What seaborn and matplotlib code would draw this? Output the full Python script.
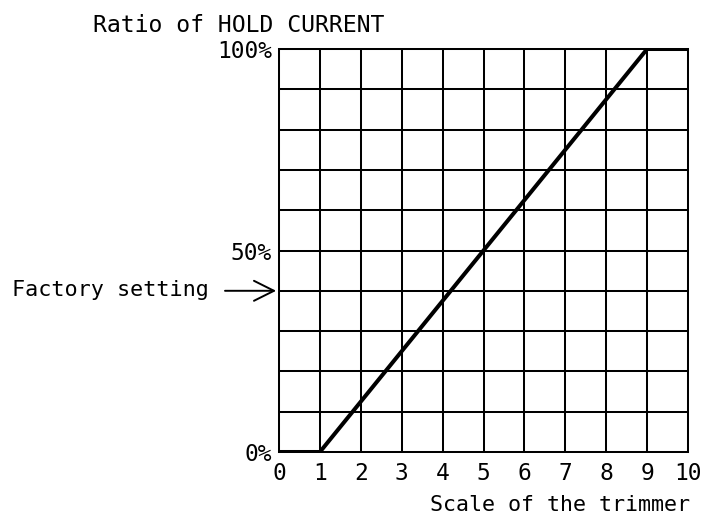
import matplotlib
matplotlib.use("Agg")
import matplotlib.pyplot as plt
import seaborn as sns
import pandas as pd

# Data
trimmer_scale = [0, 1, 9, 10]
hold_ratio = [0, 0, 100, 100]
x_ticks = list(range(0, 11))
y_ticks = list(range(0, 101, 10))
y_labels = {0: "0%", 50: "50%", 100: "100%"}
factory_setting = 40

sns.set_theme(style="white")
plt.rcParams['font.family'] = ['DejaVu Sans Mono', 'DejaVu Sans']

fig = plt.figure(figsize=(7.01, 5.19), dpi=100)
ax = fig.add_axes([279 / 701, 1 - 452 / 519, (688 - 279) / 701, (452 - 49) / 519])

df = pd.DataFrame({"x": trimmer_scale, "y": hold_ratio})
sns.lineplot(data=df, x="x", y="y", ax=ax, color="black", linewidth=2.9,
             solid_capstyle="butt", zorder=5)

ax.set_xlim(0, 10)
ax.set_ylim(0, 100)
ax.set_xticks(x_ticks)
ax.set_xticklabels([str(v) for v in x_ticks], fontsize=16.5)
ax.set_yticks(y_ticks)
ax.set_yticklabels([y_labels.get(v, "") for v in y_ticks], fontsize=16.5)
ax.tick_params(axis="both", length=0, colors="black")
ax.tick_params(axis="x", pad=7)
ax.tick_params(axis="y", pad=5)
ax.grid(True, color="black", linewidth=1.45)
for s in ax.spines.values():
    s.set_color("black")
    s.set_linewidth(1.45)
ax.set_xlabel("")
ax.set_ylabel("")

fig.text(93 / 701, 1 - 25 / 519, "Ratio of HOLD CURRENT", fontsize=16.7,
         ha="left", va="center", color="black")
fig.text(690 / 701, 1 - 505 / 519, "Scale of the trimmer", fontsize=15.6,
         ha="right", va="center", color="black")

fig.text(12 / 701, 1 - 290 / 519, "Factory setting", fontsize=15.7,
         ha="left", va="center", color="black")
ax.annotate("", xy=(-0.07, factory_setting), xycoords="data",
            xytext=(225 / 701, 1 - 290.8 / 519), textcoords="figure fraction",
            annotation_clip=False,
            arrowprops=dict(arrowstyle="->,head_length=0.9,head_width=0.45",
                            mutation_scale=16,
                            color="black", lw=1.4, shrinkA=0, shrinkB=0))

fig.savefig("out.png", dpi=100)
